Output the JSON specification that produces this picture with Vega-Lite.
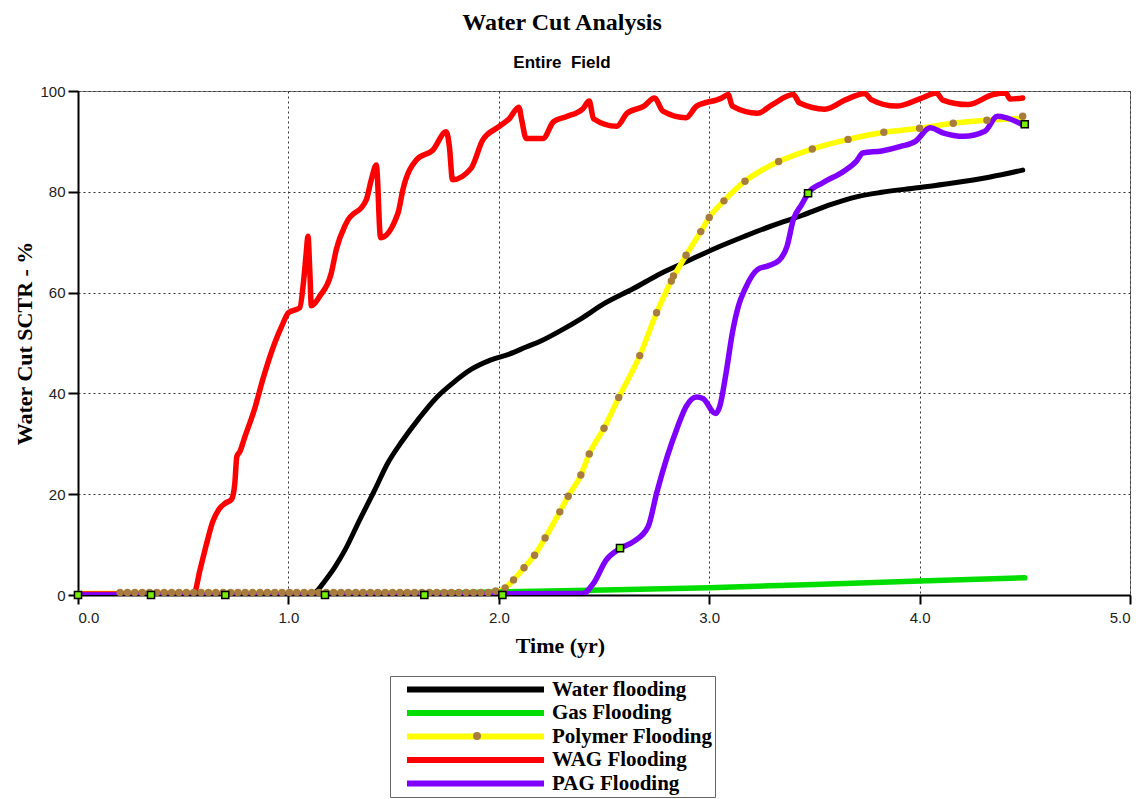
{
  "$schema": "https://vega.github.io/schema/vega-lite/v6.json",
  "width": 1052,
  "height": 504,
  "autosize": {"type": "none"},
  "padding": {"left": 78, "top": 91, "right": 16, "bottom": 204},
  "background": "white",
  "title": {
    "text": "Water Cut Analysis",
    "subtitle": "Entire\u00a0 Field",
    "font": "Liberation Serif",
    "fontSize": 24,
    "fontWeight": "bold",
    "color": "#000",
    "subtitleFont": "Liberation Sans",
    "subtitleFontSize": 17,
    "subtitleFontWeight": "bold",
    "subtitleColor": "#000",
    "subtitlePadding": 20,
    "anchor": "middle",
    "frame": "group",
    "dx": -42,
    "offset": 13
  },
  "config": {
    "view": {"stroke": "#777", "strokeWidth": 1},
    "axis": {
      "domainColor": "#000",
      "domainWidth": 2,
      "tickColor": "#000",
      "tickWidth": 2,
      "gridColor": "#333",
      "gridDash": [2, 3],
      "gridWidth": 1,
      "labelFont": "Liberation Sans",
      "labelFontSize": 15,
      "labelColor": "#222",
      "titleFont": "Liberation Serif",
      "titleFontSize": 22,
      "titleFontWeight": "bold",
      "titleColor": "#000"
    },
    "line": {"strokeJoin": "round", "strokeCap": "round", "interpolate": "monotone"}
  },
  "datasets": {
    "curves": [
      {"series": "Water flooding", "t": 0, "wc": 0},
      {"series": "Water flooding", "t": 1.10, "wc": 0},
      {"series": "Water flooding", "t": 1.14, "wc": 1},
      {"series": "Water flooding", "t": 1.17, "wc": 2.6},
      {"series": "Water flooding", "t": 1.22, "wc": 5.5},
      {"series": "Water flooding", "t": 1.27, "wc": 9},
      {"series": "Water flooding", "t": 1.34, "wc": 15},
      {"series": "Water flooding", "t": 1.41, "wc": 20.8},
      {"series": "Water flooding", "t": 1.47, "wc": 26},
      {"series": "Water flooding", "t": 1.54, "wc": 30.5},
      {"series": "Water flooding", "t": 1.62, "wc": 35},
      {"series": "Water flooding", "t": 1.70, "wc": 39},
      {"series": "Water flooding", "t": 1.78, "wc": 42},
      {"series": "Water flooding", "t": 1.87, "wc": 44.8},
      {"series": "Water flooding", "t": 1.96, "wc": 46.6},
      {"series": "Water flooding", "t": 2.05, "wc": 47.8},
      {"series": "Water flooding", "t": 2.13, "wc": 49.2},
      {"series": "Water flooding", "t": 2.20, "wc": 50.4},
      {"series": "Water flooding", "t": 2.30, "wc": 52.6},
      {"series": "Water flooding", "t": 2.39, "wc": 54.8},
      {"series": "Water flooding", "t": 2.50, "wc": 57.8},
      {"series": "Water flooding", "t": 2.64, "wc": 60.8},
      {"series": "Water flooding", "t": 2.77, "wc": 63.8},
      {"series": "Water flooding", "t": 2.90, "wc": 66.3},
      {"series": "Water flooding", "t": 3.03, "wc": 68.8},
      {"series": "Water flooding", "t": 3.17, "wc": 71.2},
      {"series": "Water flooding", "t": 3.30, "wc": 73.3},
      {"series": "Water flooding", "t": 3.44, "wc": 75.3},
      {"series": "Water flooding", "t": 3.58, "wc": 77.5},
      {"series": "Water flooding", "t": 3.70, "wc": 79},
      {"series": "Water flooding", "t": 3.82, "wc": 79.9},
      {"series": "Water flooding", "t": 3.99, "wc": 80.8},
      {"series": "Water flooding", "t": 4.15, "wc": 81.7},
      {"series": "Water flooding", "t": 4.33, "wc": 82.9},
      {"series": "Water flooding", "t": 4.49, "wc": 84.3},

      {"series": "Gas Flooding", "t": 0, "wc": 0},
      {"series": "Gas Flooding", "t": 1.0, "wc": 0},
      {"series": "Gas Flooding", "t": 1.5, "wc": 0.2},
      {"series": "Gas Flooding", "t": 2.0, "wc": 0.6},
      {"series": "Gas Flooding", "t": 2.5, "wc": 1.0},
      {"series": "Gas Flooding", "t": 3.0, "wc": 1.45},
      {"series": "Gas Flooding", "t": 3.5, "wc": 2.1},
      {"series": "Gas Flooding", "t": 4.0, "wc": 2.8},
      {"series": "Gas Flooding", "t": 4.5, "wc": 3.4},

      {"series": "Polymer Flooding", "t": 0, "wc": 0.3},
      {"series": "Polymer Flooding", "t": 1.9, "wc": 0.4},
      {"series": "Polymer Flooding", "t": 2.0, "wc": 0.8},
      {"series": "Polymer Flooding", "t": 2.03, "wc": 1.4},
      {"series": "Polymer Flooding", "t": 2.07, "wc": 3.0},
      {"series": "Polymer Flooding", "t": 2.12, "wc": 5.4},
      {"series": "Polymer Flooding", "t": 2.17, "wc": 7.9},
      {"series": "Polymer Flooding", "t": 2.22, "wc": 11.3},
      {"series": "Polymer Flooding", "t": 2.29, "wc": 16.5},
      {"series": "Polymer Flooding", "t": 2.33, "wc": 19.6},
      {"series": "Polymer Flooding", "t": 2.39, "wc": 23.8},
      {"series": "Polymer Flooding", "t": 2.43, "wc": 28.0},
      {"series": "Polymer Flooding", "t": 2.50, "wc": 33.1},
      {"series": "Polymer Flooding", "t": 2.57, "wc": 39.2},
      {"series": "Polymer Flooding", "t": 2.67, "wc": 47.5},
      {"series": "Polymer Flooding", "t": 2.75, "wc": 56},
      {"series": "Polymer Flooding", "t": 2.82, "wc": 62.3},
      {"series": "Polymer Flooding", "t": 2.89, "wc": 67.4},
      {"series": "Polymer Flooding", "t": 2.96, "wc": 72.1},
      {"series": "Polymer Flooding", "t": 3.00, "wc": 74.9},
      {"series": "Polymer Flooding", "t": 3.07, "wc": 78.2},
      {"series": "Polymer Flooding", "t": 3.17, "wc": 82.1},
      {"series": "Polymer Flooding", "t": 3.33, "wc": 86},
      {"series": "Polymer Flooding", "t": 3.49, "wc": 88.5},
      {"series": "Polymer Flooding", "t": 3.66, "wc": 90.4},
      {"series": "Polymer Flooding", "t": 3.83, "wc": 91.8},
      {"series": "Polymer Flooding", "t": 4.00, "wc": 92.6},
      {"series": "Polymer Flooding", "t": 4.16, "wc": 93.6},
      {"series": "Polymer Flooding", "t": 4.32, "wc": 94.2},
      {"series": "Polymer Flooding", "t": 4.49, "wc": 94.6},

      {"series": "WAG Flooding", "t": 0, "wc": 0.2},
      {"series": "WAG Flooding", "t": 0.55, "wc": 0.2},
      {"series": "WAG Flooding", "t": 0.58, "wc": 5},
      {"series": "WAG Flooding", "t": 0.61, "wc": 10},
      {"series": "WAG Flooding", "t": 0.64, "wc": 14.5},
      {"series": "WAG Flooding", "t": 0.67, "wc": 17},
      {"series": "WAG Flooding", "t": 0.70, "wc": 18.2},
      {"series": "WAG Flooding", "t": 0.73, "wc": 19},
      {"series": "WAG Flooding", "t": 0.745, "wc": 22},
      {"series": "WAG Flooding", "t": 0.755, "wc": 27.5},
      {"series": "WAG Flooding", "t": 0.77, "wc": 28.5},
      {"series": "WAG Flooding", "t": 0.79, "wc": 31},
      {"series": "WAG Flooding", "t": 0.84, "wc": 37},
      {"series": "WAG Flooding", "t": 0.88, "wc": 43},
      {"series": "WAG Flooding", "t": 0.935, "wc": 50},
      {"series": "WAG Flooding", "t": 0.97, "wc": 53.5},
      {"series": "WAG Flooding", "t": 1.0, "wc": 56},
      {"series": "WAG Flooding", "t": 1.054, "wc": 57},
      {"series": "WAG Flooding", "t": 1.073, "wc": 62.6},
      {"series": "WAG Flooding", "t": 1.085, "wc": 68},
      {"series": "WAG Flooding", "t": 1.093, "wc": 71.2},
      {"series": "WAG Flooding", "t": 1.102, "wc": 64},
      {"series": "WAG Flooding", "t": 1.109, "wc": 57.4},
      {"series": "WAG Flooding", "t": 1.149, "wc": 59.3},
      {"series": "WAG Flooding", "t": 1.204, "wc": 63.9},
      {"series": "WAG Flooding", "t": 1.228, "wc": 68.6},
      {"series": "WAG Flooding", "t": 1.275, "wc": 73.8},
      {"series": "WAG Flooding", "t": 1.37, "wc": 78.4},
      {"series": "WAG Flooding", "t": 1.394, "wc": 82.4},
      {"series": "WAG Flooding", "t": 1.418, "wc": 85.3},
      {"series": "WAG Flooding", "t": 1.438, "wc": 70.9},
      {"series": "WAG Flooding", "t": 1.521, "wc": 75.8},
      {"series": "WAG Flooding", "t": 1.544, "wc": 80.4},
      {"series": "WAG Flooding", "t": 1.608, "wc": 86.3},
      {"series": "WAG Flooding", "t": 1.687, "wc": 88.3},
      {"series": "WAG Flooding", "t": 1.75, "wc": 91.9},
      {"series": "WAG Flooding", "t": 1.765, "wc": 89},
      {"series": "WAG Flooding", "t": 1.78, "wc": 82.4},
      {"series": "WAG Flooding", "t": 1.869, "wc": 84.7},
      {"series": "WAG Flooding", "t": 1.924, "wc": 90.3},
      {"series": "WAG Flooding", "t": 2.0, "wc": 92.9},
      {"series": "WAG Flooding", "t": 2.05, "wc": 94.5},
      {"series": "WAG Flooding", "t": 2.095, "wc": 96.8},
      {"series": "WAG Flooding", "t": 2.11, "wc": 94},
      {"series": "WAG Flooding", "t": 2.13, "wc": 90.6},
      {"series": "WAG Flooding", "t": 2.21, "wc": 90.6},
      {"series": "WAG Flooding", "t": 2.26, "wc": 93.9},
      {"series": "WAG Flooding", "t": 2.32, "wc": 94.9},
      {"series": "WAG Flooding", "t": 2.40, "wc": 96.5},
      {"series": "WAG Flooding", "t": 2.43, "wc": 98.0},
      {"series": "WAG Flooding", "t": 2.45, "wc": 94.5},
      {"series": "WAG Flooding", "t": 2.56, "wc": 93},
      {"series": "WAG Flooding", "t": 2.61, "wc": 95.6},
      {"series": "WAG Flooding", "t": 2.69, "wc": 97},
      {"series": "WAG Flooding", "t": 2.74, "wc": 98.6},
      {"series": "WAG Flooding", "t": 2.78, "wc": 96},
      {"series": "WAG Flooding", "t": 2.89, "wc": 94.7},
      {"series": "WAG Flooding", "t": 2.94, "wc": 97},
      {"series": "WAG Flooding", "t": 3.06, "wc": 98.6},
      {"series": "WAG Flooding", "t": 3.09, "wc": 99.3},
      {"series": "WAG Flooding", "t": 3.11, "wc": 97},
      {"series": "WAG Flooding", "t": 3.23, "wc": 95.6},
      {"series": "WAG Flooding", "t": 3.30, "wc": 97.3},
      {"series": "WAG Flooding", "t": 3.40, "wc": 99.3},
      {"series": "WAG Flooding", "t": 3.43, "wc": 97.6},
      {"series": "WAG Flooding", "t": 3.55, "wc": 96.4},
      {"series": "WAG Flooding", "t": 3.65, "wc": 98.3},
      {"series": "WAG Flooding", "t": 3.74, "wc": 99.5},
      {"series": "WAG Flooding", "t": 3.77, "wc": 98.3},
      {"series": "WAG Flooding", "t": 3.89, "wc": 97},
      {"series": "WAG Flooding", "t": 4.01, "wc": 98.6},
      {"series": "WAG Flooding", "t": 4.08, "wc": 99.6},
      {"series": "WAG Flooding", "t": 4.11, "wc": 98.2},
      {"series": "WAG Flooding", "t": 4.23, "wc": 97.3},
      {"series": "WAG Flooding", "t": 4.35, "wc": 99.3},
      {"series": "WAG Flooding", "t": 4.41, "wc": 99.6},
      {"series": "WAG Flooding", "t": 4.43, "wc": 98.4},
      {"series": "WAG Flooding", "t": 4.49, "wc": 98.6},

      {"series": "PAG Flooding", "t": 0, "wc": 0},
      {"series": "PAG Flooding", "t": 2.40, "wc": 0.3},
      {"series": "PAG Flooding", "t": 2.45, "wc": 2.3},
      {"series": "PAG Flooding", "t": 2.51, "wc": 6.9},
      {"series": "PAG Flooding", "t": 2.58, "wc": 9.3},
      {"series": "PAG Flooding", "t": 2.64, "wc": 10.6},
      {"series": "PAG Flooding", "t": 2.71, "wc": 13.6},
      {"series": "PAG Flooding", "t": 2.75, "wc": 20.2},
      {"series": "PAG Flooding", "t": 2.80, "wc": 27.4},
      {"series": "PAG Flooding", "t": 2.85, "wc": 33.4},
      {"series": "PAG Flooding", "t": 2.89, "wc": 37.4},
      {"series": "PAG Flooding", "t": 2.94, "wc": 39.3},
      {"series": "PAG Flooding", "t": 2.97, "wc": 39.0},
      {"series": "PAG Flooding", "t": 3.03, "wc": 36.0},
      {"series": "PAG Flooding", "t": 3.05, "wc": 37.4},
      {"series": "PAG Flooding", "t": 3.08, "wc": 44},
      {"series": "PAG Flooding", "t": 3.11, "wc": 52},
      {"series": "PAG Flooding", "t": 3.14, "wc": 57.5},
      {"series": "PAG Flooding", "t": 3.17, "wc": 60.7},
      {"series": "PAG Flooding", "t": 3.23, "wc": 64.6},
      {"series": "PAG Flooding", "t": 3.28, "wc": 65.3},
      {"series": "PAG Flooding", "t": 3.33, "wc": 66.3},
      {"series": "PAG Flooding", "t": 3.37, "wc": 69.2},
      {"series": "PAG Flooding", "t": 3.40, "wc": 74.5},
      {"series": "PAG Flooding", "t": 3.44, "wc": 77.5},
      {"series": "PAG Flooding", "t": 3.47, "wc": 79.7},
      {"series": "PAG Flooding", "t": 3.54, "wc": 81.8},
      {"series": "PAG Flooding", "t": 3.64, "wc": 84.1},
      {"series": "PAG Flooding", "t": 3.70, "wc": 86.1},
      {"series": "PAG Flooding", "t": 3.73, "wc": 87.7},
      {"series": "PAG Flooding", "t": 3.82, "wc": 88.1},
      {"series": "PAG Flooding", "t": 3.91, "wc": 89.0},
      {"series": "PAG Flooding", "t": 3.98, "wc": 90.0},
      {"series": "PAG Flooding", "t": 4.05, "wc": 92.7},
      {"series": "PAG Flooding", "t": 4.11, "wc": 91.7},
      {"series": "PAG Flooding", "t": 4.21, "wc": 91.0},
      {"series": "PAG Flooding", "t": 4.31, "wc": 92.0},
      {"series": "PAG Flooding", "t": 4.37, "wc": 95.0},
      {"series": "PAG Flooding", "t": 4.41, "wc": 94.7},
      {"series": "PAG Flooding", "t": 4.49, "wc": 93.3}
    ],
    "polymerDots": [
      {"t": 0.20, "wc": 0.5}, {"t": 0.235, "wc": 0.5}, {"t": 0.27, "wc": 0.5}, {"t": 0.305, "wc": 0.5},
      {"t": 0.34, "wc": 0.5}, {"t": 0.375, "wc": 0.5}, {"t": 0.41, "wc": 0.5}, {"t": 0.445, "wc": 0.5},
      {"t": 0.48, "wc": 0.5}, {"t": 0.515, "wc": 0.5}, {"t": 0.55, "wc": 0.5}, {"t": 0.585, "wc": 0.5},
      {"t": 0.62, "wc": 0.5}, {"t": 0.655, "wc": 0.5}, {"t": 0.69, "wc": 0.5}, {"t": 0.725, "wc": 0.5},
      {"t": 0.76, "wc": 0.5}, {"t": 0.795, "wc": 0.5}, {"t": 0.83, "wc": 0.5}, {"t": 0.865, "wc": 0.5},
      {"t": 0.90, "wc": 0.5}, {"t": 0.935, "wc": 0.5}, {"t": 0.97, "wc": 0.5}, {"t": 1.005, "wc": 0.5},
      {"t": 1.04, "wc": 0.5}, {"t": 1.075, "wc": 0.5}, {"t": 1.11, "wc": 0.5}, {"t": 1.145, "wc": 0.5},
      {"t": 1.18, "wc": 0.5}, {"t": 1.215, "wc": 0.5}, {"t": 1.25, "wc": 0.5}, {"t": 1.285, "wc": 0.5},
      {"t": 1.32, "wc": 0.5}, {"t": 1.355, "wc": 0.5}, {"t": 1.39, "wc": 0.5}, {"t": 1.425, "wc": 0.5},
      {"t": 1.46, "wc": 0.5}, {"t": 1.495, "wc": 0.5}, {"t": 1.53, "wc": 0.5}, {"t": 1.565, "wc": 0.5},
      {"t": 1.60, "wc": 0.5}, {"t": 1.635, "wc": 0.5}, {"t": 1.67, "wc": 0.5}, {"t": 1.705, "wc": 0.5},
      {"t": 1.74, "wc": 0.5}, {"t": 1.775, "wc": 0.5}, {"t": 1.81, "wc": 0.5}, {"t": 1.845, "wc": 0.5},
      {"t": 1.88, "wc": 0.5}, {"t": 1.915, "wc": 0.5}, {"t": 1.95, "wc": 0.5}, {"t": 1.985, "wc": 0.8},
      {"t": 2.03, "wc": 1.4}, {"t": 2.07, "wc": 3.0}, {"t": 2.12, "wc": 5.4}, {"t": 2.17, "wc": 7.9},
      {"t": 2.22, "wc": 11.3}, {"t": 2.29, "wc": 16.5}, {"t": 2.33, "wc": 19.6}, {"t": 2.39, "wc": 23.8},
      {"t": 2.43, "wc": 28.0}, {"t": 2.50, "wc": 33.1}, {"t": 2.57, "wc": 39.2}, {"t": 2.67, "wc": 47.5},
      {"t": 2.75, "wc": 56}, {"t": 2.82, "wc": 62.3}, {"t": 2.83, "wc": 63.3}, {"t": 2.89, "wc": 67.4},
      {"t": 2.96, "wc": 72.1}, {"t": 3.00, "wc": 74.9}, {"t": 3.07, "wc": 78.2}, {"t": 3.17, "wc": 82.1},
      {"t": 3.33, "wc": 86}, {"t": 3.49, "wc": 88.5}, {"t": 3.66, "wc": 90.4}, {"t": 3.83, "wc": 91.8},
      {"t": 4.00, "wc": 92.6}, {"t": 4.16, "wc": 93.6}, {"t": 4.32, "wc": 94.2}, {"t": 4.49, "wc": 95.0}
    ],
    "markers": [
      {"t": 0, "wc": 0}, {"t": 0.347, "wc": 0}, {"t": 0.70, "wc": 0}, {"t": 1.174, "wc": 0},
      {"t": 1.646, "wc": 0}, {"t": 2.017, "wc": 0}, {"t": 2.576, "wc": 9.3}, {"t": 3.47, "wc": 79.7},
      {"t": 4.5, "wc": 93.4}
    ]
  },
  "encoding": {
    "x": {
      "field": "t", "type": "quantitative",
      "scale": {"domain": [0, 5], "nice": false, "zero": false},
      "axis": {
        "title": "Time (yr)",
        "values": [0, 1, 2, 3, 4, 5],
        "format": ".1f",
        "tickSize": 9,
        "labelPadding": 6,
        "titlePadding": 10,
        "titleX": 482,
        "titleAnchor": "middle",
        "titleAlign": "center",
        "grid": true
      }
    },
    "y": {
      "field": "wc", "type": "quantitative",
      "scale": {"domain": [0, 100], "nice": false},
      "axis": {
        "title": "Water Cut SCTR - %",
        "values": [0, 20, 40, 60, 80, 100],
        "tickSize": 10,
        "labelPadding": 3,
        "titlePadding": 3,
        "grid": true
      }
    }
  },
  "layer": [
    {
      "data": {"name": "curves"},
      "transform": [{"filter": "datum.series === 'Water flooding'"}],
      "mark": {"type": "line", "strokeWidth": 5, "clip": true},
      "encoding": {
        "color": {
          "field": "series", "type": "nominal",
          "scale": {
            "domain": ["Water flooding", "Gas Flooding", "Polymer Flooding", "WAG Flooding", "PAG Flooding"],
            "range": ["#000000", "#00dd00", "#ffff00", "#ff0000", "#8000ff"]
          },
          "legend": {
            "title": null,
            "orient": "none",
            "legendX": 312,
            "legendY": 585,
            "symbolType": "stroke",
            "symbolSize": 18769,
            "symbolStrokeWidth": 6,
            "symbolOffset": 12,
            "clipHeight": 23,
            "rowPadding": 0.5,
            "labelFont": "Liberation Serif",
            "labelFontSize": 21,
            "labelFontWeight": "bold",
            "labelColor": "#000",
            "labelOffset": 5,
            "labelLimit": 300,
            "strokeColor": "#666",
            "fillColor": "white",
            "padding": 2
          }
        }
      }
    },
    {
      "data": {"name": "curves"},
      "transform": [{"filter": "datum.series === 'Polymer Flooding'"}],
      "mark": {"type": "line", "strokeWidth": 5.5, "clip": true},
      "encoding": {"color": {"field": "series", "type": "nominal"}}
    },
    {
      "data": {"name": "curves"},
      "transform": [{"filter": "datum.series === 'Gas Flooding'"}],
      "mark": {"type": "line", "strokeWidth": 5.5, "clip": true, "interpolate": "linear"},
      "encoding": {"color": {"field": "series", "type": "nominal"}}
    },
    {
      "data": {"name": "curves"},
      "transform": [{"filter": "datum.series === 'WAG Flooding'"}],
      "mark": {"type": "line", "strokeWidth": 5.5, "clip": true},
      "encoding": {"color": {"field": "series", "type": "nominal"}}
    },
    {
      "data": {"name": "curves"},
      "transform": [{"filter": "datum.series === 'PAG Flooding'"}],
      "mark": {"type": "line", "strokeWidth": 5.5, "clip": true},
      "encoding": {"color": {"field": "series", "type": "nominal"}}
    },
    {
      "data": {"name": "polymerDots"},
      "mark": {"type": "point", "filled": true, "size": 55, "color": "#a87b3f", "opacity": 1},
      "encoding": {
        "shape": {
          "datum": "Polymer Flooding",
          "type": "nominal",
          "scale": {"range": ["circle"]},
          "legend": {
            "title": null,
            "orient": "none",
            "legendX": 395,
            "legendY": 640,
            "clipHeight": 10,
            "symbolSize": 64,
            "symbolFillColor": "#a87b3f",
            "symbolStrokeWidth": 0,
            "symbolOffset": 0,
            "padding": 0,
            "labelOpacity": 0,
            "labelFontSize": 1,
            "labelOffset": 0
          }
        }
      }
    },
    {
      "data": {"name": "markers"},
      "mark": {"type": "point", "shape": "square", "filled": true, "size": 50, "fill": "#77ee00", "stroke": "#000", "strokeWidth": 1.5, "opacity": 1},
      "encoding": {}
    }
  ]
}
